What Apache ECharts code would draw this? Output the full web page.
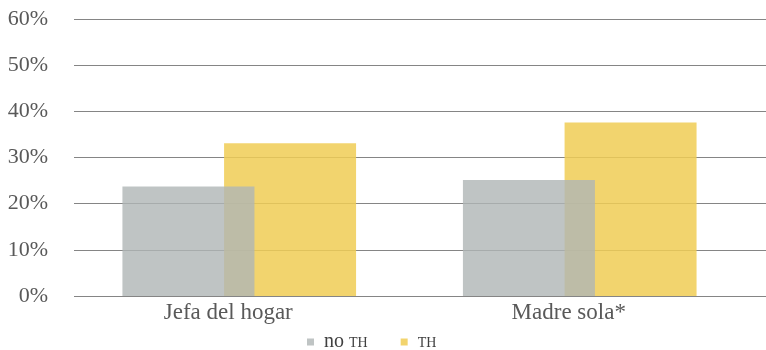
<!DOCTYPE html>
<html>
<head>
<meta charset="utf-8">
<script src="https://cdn.jsdelivr.net/npm/echarts@6/dist/echarts.min.js"></script>
<style>
  html, body { margin: 0; padding: 0; background: #ffffff; }
  #chart { width: 766px; height: 350px; }
</style>
</head>
<body>
<div id="chart"></div>
<script>
// Categories and percentages per group
const categories = ['Jefa del hogar', 'Madre sola*'];
const seriesNames = ['no TH', 'TH'];
const noTH = [23.7, 25.1];
const withTH = [33.1, 37.6];
const yTicks = [0, 10, 20, 30, 40, 50, 60];

const serif = '"Liberation Serif", "DejaVu Serif", serif';
const textGrey = '#595959';

const chart = echarts.init(document.getElementById('chart'), null, { renderer: 'canvas' });

chart.setOption({
  animation: false,
  backgroundColor: '#ffffff',
  grid: [
    // grid carrying the percentage scale and the horizontal rules
    { left: 74, right: 0, top: 19, bottom: 54 },
    // grid carrying the bars
    { left: 69, right: 16, top: 19, bottom: 54 }
  ],
  legend: {
    data: seriesNames,
    left: 302,
    top: 327,
    icon: 'rect',
    itemWidth: 7,
    itemHeight: 7,
    itemGap: 33,
    formatter: function (name) {
      return name === 'no TH' ? '{g|}{a|no}{s|}{b|TH}' : '{g|}{b|TH}';
    },
    textStyle: {
      color: '#404040',
      fontFamily: serif,
      rich: {
        g: { width: 5, fontSize: 20, lineHeight: 20, fontFamily: serif, verticalAlign: 'bottom' },
        s: { width: 5, fontSize: 20, lineHeight: 20, fontFamily: serif, verticalAlign: 'bottom' },
        a: { fontSize: 20, lineHeight: 20, fontFamily: serif, color: '#404040', verticalAlign: 'bottom' },
        b: { fontSize: 14, lineHeight: 14, fontFamily: serif, color: '#404040', verticalAlign: 'bottom', padding: [0, 0, 2, 0] }
      }
    }
  },
  xAxis: [
    {
      type: 'category',
      gridIndex: 0,
      data: categories,
      show: false
    },
    {
      type: 'category',
      gridIndex: 1,
      data: categories,
      axisLine: { show: false },
      axisTick: { show: false },
      axisLabel: {
        color: textGrey,
        fontFamily: serif,
        fontSize: 23,
        margin: 5,
        padding: [0, 22, 0, 0]
      }
    }
  ],
  yAxis: [
    {
      type: 'value',
      gridIndex: 0,
      min: yTicks[0],
      max: yTicks[yTicks.length - 1],
      interval: 10,
      axisLine: { show: false },
      axisTick: { show: false },
      axisLabel: {
        color: textGrey,
        fontFamily: serif,
        fontSize: 22,
        margin: 26,
        formatter: '{value}%'
      },
      splitLine: { show: true, lineStyle: { color: '#858585', width: 1 } }
    },
    {
      type: 'value',
      gridIndex: 1,
      min: yTicks[0],
      max: yTicks[yTicks.length - 1],
      interval: 10,
      show: false,
      splitLine: { show: false }
    }
  ],
  series: [
    {
      name: seriesNames[0],
      type: 'bar',
      xAxisIndex: 1,
      yAxisIndex: 1,
      data: noTH,
      barWidth: 132,
      barGap: '-23%',
      z: 3,
      itemStyle: { color: '#AFB5B5', opacity: 0.8 }
    },
    {
      name: seriesNames[1],
      type: 'bar',
      xAxisIndex: 1,
      yAxisIndex: 1,
      data: withTH,
      barWidth: 132,
      barGap: '-23%',
      z: 2,
      itemStyle: { color: '#F0CD55', opacity: 0.85 }
    }
  ]
});
</script>
</body>
</html>
